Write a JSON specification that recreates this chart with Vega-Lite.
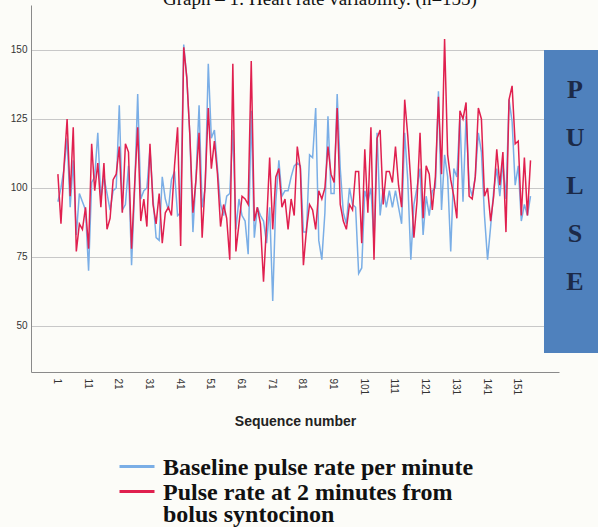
{
  "$schema": "https://vega.github.io/schema/vega-lite/v6.json",
  "width": 528,
  "height": 367,
  "autosize": {"type": "none"},
  "padding": {"left": 31, "top": 5, "right": 39, "bottom": 155},
  "background": "#fcfcf8",
  "config": {"view": {"stroke": null}, "axis": {"labelOverlap": false}, "style": {"guide-label": {"lineHeight": 22}}},
  "layer": [
    {
      "data": {"values": [
        {"seq":1,"baseline":95,"pulse":105},{"seq":2,"baseline":100,"pulse":87},{"seq":3,"baseline":107,"pulse":108},{"seq":4,"baseline":118,"pulse":125},{"seq":5,"baseline":93,"pulse":97},
        {"seq":6,"baseline":110,"pulse":122},{"seq":7,"baseline":83,"pulse":77},{"seq":8,"baseline":98,"pulse":87},{"seq":9,"baseline":95,"pulse":85},{"seq":10,"baseline":92,"pulse":93},
        {"seq":11,"baseline":70,"pulse":78},{"seq":12,"baseline":102,"pulse":116},{"seq":13,"baseline":104,"pulse":99},{"seq":14,"baseline":120,"pulse":109},{"seq":15,"baseline":96,"pulse":93},
        {"seq":16,"baseline":104,"pulse":109},{"seq":17,"baseline":98,"pulse":85},{"seq":18,"baseline":92,"pulse":89},{"seq":19,"baseline":99,"pulse":103},{"seq":20,"baseline":100,"pulse":105},
        {"seq":21,"baseline":130,"pulse":115},{"seq":22,"baseline":92,"pulse":91},{"seq":23,"baseline":94,"pulse":116},{"seq":24,"baseline":108,"pulse":113},{"seq":25,"baseline":72,"pulse":78},
        {"seq":26,"baseline":99,"pulse":101},{"seq":27,"baseline":134,"pulse":122},{"seq":28,"baseline":96,"pulse":88},{"seq":29,"baseline":99,"pulse":96},{"seq":30,"baseline":100,"pulse":86},
        {"seq":31,"baseline":114,"pulse":116},{"seq":32,"baseline":96,"pulse":94},{"seq":33,"baseline":82,"pulse":87},{"seq":34,"baseline":81,"pulse":98},{"seq":35,"baseline":104,"pulse":80},
        {"seq":36,"baseline":96,"pulse":91},{"seq":37,"baseline":92,"pulse":93},{"seq":38,"baseline":103,"pulse":90},{"seq":39,"baseline":106,"pulse":108},{"seq":40,"baseline":90,"pulse":122},
        {"seq":41,"baseline":91,"pulse":79},{"seq":42,"baseline":152,"pulse":151},{"seq":43,"baseline":140,"pulse":140},{"seq":44,"baseline":119,"pulse":119},{"seq":45,"baseline":84,"pulse":91},
        {"seq":46,"baseline":104,"pulse":103},{"seq":47,"baseline":130,"pulse":120},{"seq":48,"baseline":93,"pulse":82},{"seq":49,"baseline":100,"pulse":102},{"seq":50,"baseline":145,"pulse":129},
        {"seq":51,"baseline":118,"pulse":107},{"seq":52,"baseline":121,"pulse":117},{"seq":53,"baseline":107,"pulse":105},{"seq":54,"baseline":94,"pulse":86},{"seq":55,"baseline":90,"pulse":94},
        {"seq":56,"baseline":97,"pulse":89},{"seq":57,"baseline":98,"pulse":74},{"seq":58,"baseline":121,"pulse":145},{"seq":59,"baseline":85,"pulse":77},{"seq":60,"baseline":96,"pulse":87},
        {"seq":61,"baseline":90,"pulse":97},{"seq":62,"baseline":88,"pulse":96},{"seq":63,"baseline":76,"pulse":94},{"seq":64,"baseline":128,"pulse":146},{"seq":65,"baseline":82,"pulse":88},
        {"seq":66,"baseline":93,"pulse":93},{"seq":67,"baseline":90,"pulse":87},{"seq":68,"baseline":88,"pulse":66},{"seq":69,"baseline":80,"pulse":87},{"seq":70,"baseline":93,"pulse":111},
        {"seq":71,"baseline":59,"pulse":85},{"seq":72,"baseline":95,"pulse":104},{"seq":73,"baseline":110,"pulse":107},{"seq":74,"baseline":97,"pulse":93},{"seq":75,"baseline":99,"pulse":96},
        {"seq":76,"baseline":99,"pulse":85},{"seq":77,"baseline":104,"pulse":96},{"seq":78,"baseline":108,"pulse":90},{"seq":79,"baseline":109,"pulse":115},{"seq":80,"baseline":108,"pulse":107},
        {"seq":81,"baseline":84,"pulse":72},{"seq":82,"baseline":84,"pulse":85},{"seq":83,"baseline":112,"pulse":94},{"seq":84,"baseline":111,"pulse":92},{"seq":85,"baseline":129,"pulse":85},
        {"seq":86,"baseline":81,"pulse":99},{"seq":87,"baseline":74,"pulse":96},{"seq":88,"baseline":91,"pulse":100},{"seq":89,"baseline":126,"pulse":115},{"seq":90,"baseline":98,"pulse":105},
        {"seq":91,"baseline":98,"pulse":102},{"seq":92,"baseline":134,"pulse":129},{"seq":93,"baseline":107,"pulse":94},{"seq":94,"baseline":91,"pulse":88},{"seq":95,"baseline":87,"pulse":85},
        {"seq":96,"baseline":100,"pulse":94},{"seq":97,"baseline":94,"pulse":92},{"seq":98,"baseline":93,"pulse":106},{"seq":99,"baseline":69,"pulse":106},{"seq":100,"baseline":71,"pulse":80},
        {"seq":101,"baseline":99,"pulse":114},{"seq":102,"baseline":95,"pulse":91},{"seq":103,"baseline":100,"pulse":122},{"seq":104,"baseline":80,"pulse":74},{"seq":105,"baseline":120,"pulse":118},
        {"seq":106,"baseline":90,"pulse":121},{"seq":107,"baseline":100,"pulse":94},{"seq":108,"baseline":93,"pulse":106},{"seq":109,"baseline":99,"pulse":106},{"seq":110,"baseline":93,"pulse":102},
        {"seq":111,"baseline":99,"pulse":115},{"seq":112,"baseline":93,"pulse":101},{"seq":113,"baseline":87,"pulse":93},{"seq":114,"baseline":120,"pulse":132},{"seq":115,"baseline":103,"pulse":119},
        {"seq":116,"baseline":74,"pulse":102},{"seq":117,"baseline":94,"pulse":82},{"seq":118,"baseline":100,"pulse":95},{"seq":119,"baseline":107,"pulse":120},{"seq":120,"baseline":83,"pulse":89},
        {"seq":121,"baseline":97,"pulse":108},{"seq":122,"baseline":90,"pulse":105},{"seq":123,"baseline":99,"pulse":92},{"seq":124,"baseline":100,"pulse":104},{"seq":125,"baseline":135,"pulse":133},
        {"seq":126,"baseline":92,"pulse":105},{"seq":127,"baseline":112,"pulse":154},{"seq":128,"baseline":104,"pulse":112},{"seq":129,"baseline":77,"pulse":103},{"seq":130,"baseline":107,"pulse":97},
        {"seq":131,"baseline":104,"pulse":89},{"seq":132,"baseline":126,"pulse":128},{"seq":133,"baseline":95,"pulse":125},{"seq":134,"baseline":126,"pulse":131},{"seq":135,"baseline":101,"pulse":97},
        {"seq":136,"baseline":97,"pulse":96},{"seq":137,"baseline":104,"pulse":104},{"seq":138,"baseline":120,"pulse":129},{"seq":139,"baseline":113,"pulse":125},{"seq":140,"baseline":90,"pulse":97},
        {"seq":141,"baseline":74,"pulse":100},{"seq":142,"baseline":86,"pulse":88},{"seq":143,"baseline":99,"pulse":97},{"seq":144,"baseline":107,"pulse":114},{"seq":145,"baseline":97,"pulse":101},
        {"seq":146,"baseline":109,"pulse":113},{"seq":147,"baseline":96,"pulse":84},{"seq":148,"baseline":132,"pulse":132},{"seq":149,"baseline":124,"pulse":137},{"seq":150,"baseline":101,"pulse":116},
        {"seq":151,"baseline":108,"pulse":117},{"seq":152,"baseline":88,"pulse":90},{"seq":153,"baseline":94,"pulse":111},{"seq":154,"baseline":90,"pulse":90},{"seq":155,"baseline":97,"pulse":110}
      ]},
      "transform": [{"fold": ["baseline", "pulse"], "as": ["series", "value"]}],
      "mark": {"type": "line", "strokeWidth": 1.5},
      "encoding": {
        "x": {
          "field": "seq", "type": "quantitative",
          "scale": {"domain": [-7.765, 164.28], "nice": false, "zero": false},
          "axis": {
            "values": [1, 11, 21, 31, 41, 51, 61, 71, 81, 91, 101, 111, 121, 131, 141, 151],
            "tickCount": 40,
            "labelAngle": 90, "labelAlign": "left", "labelBaseline": "middle", "labelPadding": 6,
            "labelOffset": -1.5, "labelOverlap": false, "labelFlush": false,
            "ticks": false, "grid": false, "domainColor": "#8a8a8a",
            "labelColor": "#333333", "labelFontSize": 10, "labelFont": "Liberation Sans",
            "title": "Sequence number", "titleFont": "Liberation Sans", "titleFontSize": 14,
            "titleFontWeight": "bold", "titleColor": "#222222", "titlePadding": 20
          }
        },
        "y": {
          "field": "value", "type": "quantitative",
          "scale": {"domain": [33.3, 166.3], "nice": false, "zero": false},
          "axis": {
            "values": [50, 75, 100, 125, 150], "tickCount": 10, "ticks": false, "labelPadding": 4,
            "grid": true, "gridColor": "#c8c8c8", "domainColor": "#8a8a8a",
            "labelColor": "#333333", "labelFontSize": 10, "labelFont": "Liberation Sans", "title": null
          }
        },
        "color": {
          "field": "series", "type": "nominal",
          "scale": {"domain": ["baseline", "pulse"], "range": ["#7aaee6", "#e0204f"]},
          "legend": {
            "orient": "none", "legendX": 77, "legendY": 457.5, "title": null, "direction": "vertical",
            "symbolType": "M-1,-16L69,-16", "symbolSize": 1, "symbolStrokeWidth": 3,
            "labelFont": "Liberation Serif", "labelFontWeight": "bold", "labelFontSize": 24,
            "labelColor": "#111111", "labelLimit": 0, "labelOffset": 31, "labelBaseline": "alphabetic",
            "rowPadding": 1, "padding": 0,
            "labelExpr": "datum.value == 'baseline' ? 'Baseline pulse rate per minute' : ['Pulse rate at 2 minutes from', 'bolus syntocinon']"
          }
        }
      }
    },
    {
      "data": {"values": [{}]},
      "mark": {"type": "rect", "color": "#4f81bd"},
      "encoding": {
        "x": {"datum": 159.39, "type": "quantitative"},
        "x2": {"datum": 178},
        "y": {"datum": 150, "type": "quantitative"},
        "y2": {"datum": 40.19}
      }
    },
    {
      "data": {"values": [{}]},
      "mark": {"type": "text", "text": ["P", "U", "L", "S", "E"], "lineHeight": 48, "font": "Liberation Serif", "fontSize": 26, "fontWeight": "bold", "color": "#1c2a48", "baseline": "middle", "align": "center"},
      "encoding": {
        "x": {"datum": 169.5, "type": "quantitative"},
        "y": {"datum": 135.5, "type": "quantitative"}
      }
    },
    {
      "data": {"values": [{}]},
      "mark": {"type": "text", "text": "Graph – 1: Heart rate variability. (n=155)", "font": "Liberation Serif", "fontSize": 19, "color": "#111111", "baseline": "alphabetic", "align": "center"},
      "encoding": {
        "x": {"datum": 86.4, "type": "quantitative"},
        "y": {"datum": 166.3, "type": "quantitative"}
      }
    }
  ]
}
